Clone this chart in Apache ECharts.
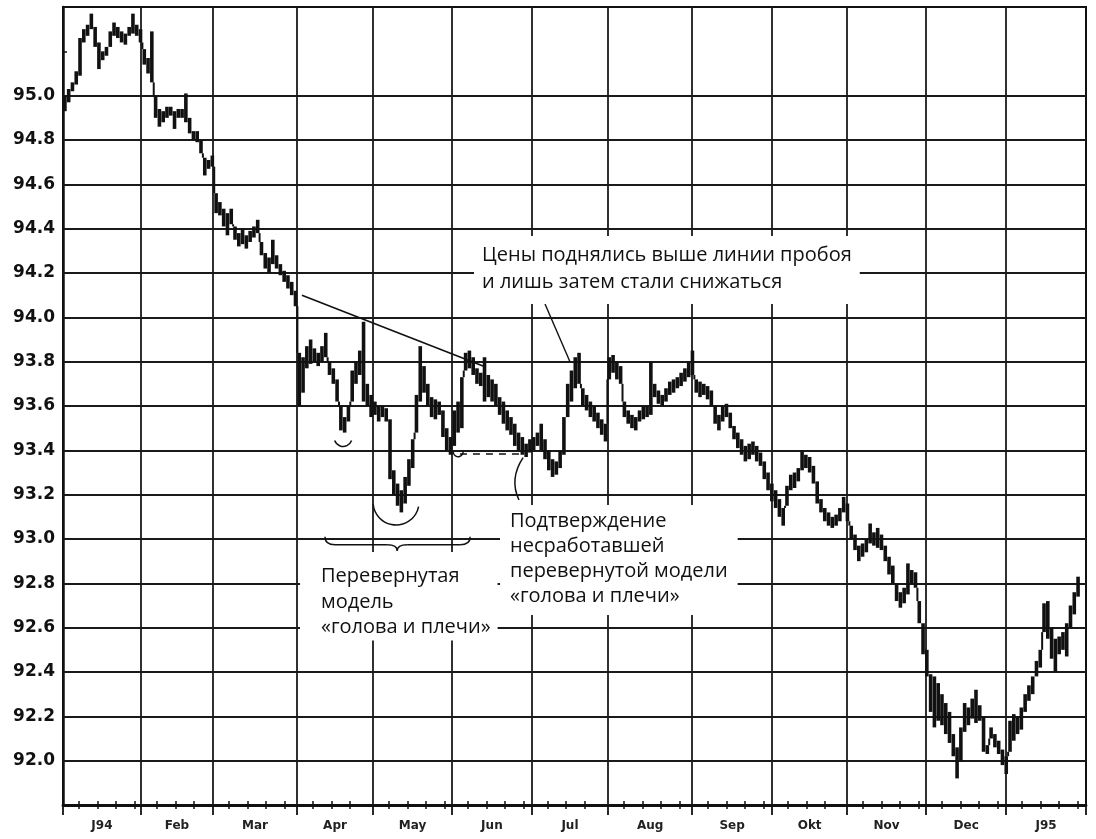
<!DOCTYPE html>
<html><head><meta charset="utf-8">
<script src="https://cdn.jsdelivr.net/npm/echarts@6/dist/echarts.min.js"></script>
<style>html,body{margin:0;padding:0;background:#fff}#c{width:1096px;height:839px}</style>
</head><body><div id="c"></div>
<script>
// ---- data ----
const monthLabels = ['J94','Feb','Mar','Apr','May','Jun','Jul','Aug','Sep','Okt','Nov','Dec','J95'];
// month boundaries in trading-day units
const monthStarts = [0, 20.6, 39.7, 61.9, 82, 102.9, 124, 144.2, 166.4, 187.6, 207.4, 228.3, 249.5, 270.6];
const yTickValues = [92.0, 92.2, 92.4, 92.6, 92.8, 93.0, 93.2, 93.4, 93.6, 93.8, 94.0, 94.2, 94.4, 94.6, 94.8, 95.0];

// daily lows / highs
const lowsJan94 = [94.93,94.97,95.02,95.05,95.09,95.24,95.27,95.30,95.22,95.12,95.16,95.18,95.22,95.27,95.26,95.24,95.23,95.27,95.28,95.27,95.24];
const highsJan94 = [95.00,95.03,95.06,95.11,95.26,95.30,95.32,95.37,95.31,95.24,95.20,95.22,95.29,95.33,95.31,95.29,95.28,95.31,95.37,95.32,95.30];
const lowsFeb = [95.14,95.10,95.06,94.90,94.86,94.88,94.90,94.91,94.85,94.90,94.90,94.88,94.83,94.80,94.79,94.74,94.64,94.67,94.68];
const highsFeb = [95.21,95.17,95.29,95.00,94.94,94.93,94.95,94.95,94.93,94.94,94.94,95.01,94.90,94.84,94.84,94.80,94.72,94.71,94.73];
const lowsMar = [94.47,94.46,94.41,94.37,94.42,94.35,94.32,94.33,94.31,94.34,94.36,94.38,94.28,94.22,94.20,94.24,94.22,94.19,94.16,94.13,94.10,94.05];
const highsMar = [94.56,94.52,94.49,94.47,94.49,94.41,94.38,94.40,94.37,94.39,94.41,94.44,94.34,94.29,94.27,94.35,94.28,94.24,94.21,94.19,94.16,94.12];
const lowsApr = [93.60,93.66,93.77,93.79,93.80,93.78,93.80,93.82,93.74,93.70,93.62,93.49,93.48,93.53,93.62,93.70,93.74,93.62,93.60,93.55];
const highsApr = [93.84,93.82,93.87,93.90,93.86,93.84,93.87,93.93,93.80,93.77,93.72,93.60,93.55,93.60,93.76,93.80,93.85,93.98,93.70,93.65];
const lowsMay = [93.56,93.53,93.55,93.53,93.27,93.20,93.15,93.12,93.16,93.24,93.32,93.48,93.62,93.66,93.60,93.55,93.54,93.56,93.46,93.40,93.38];
const highsMay = [93.62,93.60,93.60,93.59,93.54,93.31,93.25,93.22,93.28,93.36,93.45,93.65,93.87,93.78,93.70,93.64,93.63,93.62,93.58,93.50,93.46];
const lowsJun = [93.42,93.48,93.50,93.76,93.77,93.74,93.70,93.69,93.62,93.64,93.62,93.60,93.56,93.52,93.49,93.47,93.42,93.40,93.38,93.37,93.39];
const highsJun = [93.58,93.62,93.73,93.84,93.85,93.82,93.77,93.75,93.82,93.74,93.72,93.70,93.64,93.62,93.58,93.55,93.52,93.48,93.46,93.43,93.45];
const lowsJul = [93.40,93.42,93.40,93.36,93.31,93.28,93.29,93.32,93.38,93.55,93.62,93.68,93.70,93.60,93.58,93.55,93.53,93.50,93.47,93.44];
const highsJul = [93.46,93.48,93.52,93.45,93.40,93.36,93.35,93.40,93.55,93.70,93.76,93.82,93.84,93.68,93.65,93.62,93.60,93.57,93.54,93.52];
const lowsAug = [93.72,93.75,93.72,93.70,93.55,93.52,93.50,93.49,93.53,93.54,93.55,93.56,93.64,93.61,93.60,93.62,93.65,93.66,93.68,93.69,93.71,93.73];
const highsAug = [93.82,93.83,93.80,93.78,93.62,93.58,93.56,93.55,93.58,93.60,93.60,93.80,93.70,93.67,93.65,93.68,93.71,93.72,93.73,93.75,93.77,93.80];
const lowsSep = [93.74,93.66,93.64,93.65,93.63,93.60,93.52,93.49,93.53,93.55,93.50,93.45,93.41,93.38,93.35,93.36,93.38,93.35,93.33,93.27,93.22,93.17];
const highsSep = [93.85,93.72,93.71,93.70,93.69,93.67,93.60,93.56,93.60,93.61,93.57,93.51,93.48,93.45,93.42,93.43,93.44,93.42,93.39,93.35,93.30,93.25];
const lowsOct = [93.14,93.10,93.06,93.15,93.22,93.23,93.26,93.31,93.32,93.30,93.25,93.16,93.12,93.08,93.06,93.05,93.06,93.08,93.12,93.08];
const highsOct = [93.22,93.18,93.14,93.24,93.29,93.30,93.32,93.40,93.38,93.37,93.33,93.26,93.18,93.14,93.12,93.10,93.11,93.14,93.19,93.16];
const lowsNov = [93.00,92.95,92.90,92.92,92.94,92.98,92.97,92.96,92.95,92.90,92.84,92.80,92.72,92.69,92.71,92.75,92.80,92.78,92.62,92.48];
const highsNov = [93.06,93.02,92.97,92.98,93.00,93.07,93.03,93.05,93.02,92.97,92.92,92.88,92.80,92.76,92.78,92.89,92.86,92.85,92.72,92.62];
const lowsDec = [92.38,92.22,92.15,92.18,92.16,92.12,92.08,92.02,91.92,92.00,92.13,92.16,92.19,92.17,92.18,92.04,92.03,92.10,92.06,92.03,91.98,91.94];
const highsDec = [92.50,92.39,92.38,92.35,92.30,92.26,92.22,92.12,92.06,92.15,92.26,92.24,92.28,92.32,92.25,92.20,92.07,92.15,92.12,92.09,92.05,92.02];
const lowsJan95 = [92.04,92.09,92.12,92.14,92.22,92.27,92.30,92.38,92.42,92.58,92.55,92.46,92.40,92.48,92.50,92.47,92.60,92.66,92.74];
const highsJan95 = [92.18,92.21,92.20,92.24,92.30,92.34,92.38,92.45,92.50,92.71,92.72,92.60,92.55,92.56,92.58,92.62,92.70,92.76,92.83];

// annotation lines (trading day, price)
const breakoutLine = [[63.2, 94.10], [111.1, 93.78]];
const confirmLine = [[105.0, 93.385], [121.7, 93.385]];
const arrowLine = [[127.5, 94.06], [134.1, 93.80]];

const lows = [].concat(lowsJan94, lowsFeb, lowsMar, lowsApr, lowsMay, lowsJun, lowsJul, lowsAug, lowsSep, lowsOct, lowsNov, lowsDec, lowsJan95);
const highs = [].concat(highsJan94, highsFeb, highsMar, highsApr, highsMay, highsJun, highsJul, highsAug, highsSep, highsOct, highsNov, highsDec, highsJan95);
const bars = lows.map((l, i) => [i + 0.5, l, highs[i]]);

const monthCenters = monthLabels.map((_, i) => (monthStarts[i] + monthStarts[i + 1]) / 2);
const weekTicks = [];
for (let m = 0; m < monthStarts.length - 1; m++) {
  for (let d = monthStarts[m] + 4.2; d < monthStarts[m + 1] - 1.5; d += 4.9) weekTicks.push(d);
}

const INK = '#111';
const chart = echarts.init(document.getElementById('c'), null, {renderer: 'canvas'});
const xBase = {type: 'value', min: 0, max: 270.6, position: 'bottom', offset: 0, splitLine: {show: false}};
chart.setOption({
  animation: false,
  backgroundColor: '#fff',
  grid: {left: 63, right: 10, top: 7, bottom: 34, show: true, borderColor: INK, borderWidth: 2, backgroundColor: 'transparent'},
  xAxis: [
    Object.assign({}, xBase, {
      axisLine: {show: true, lineStyle: {color: INK, width: 2.8}},
      axisTick: {show: true, customValues: weekTicks, inside: false, length: 4, lineStyle: {color: INK, width: 1.5}},
      axisLabel: {show: true, customValues: monthCenters, margin: 15, color: '#222', fontFamily: 'DejaVu Sans', fontWeight: 'bold', fontSize: 12,
        formatter: v => { const i = monthCenters.findIndex(c => Math.abs(c - v) < 0.01); return i >= 0 ? monthLabels[i] : ''; }}
    }),
    Object.assign({}, xBase, {
      axisLine: {show: false},
      axisTick: {show: true, customValues: weekTicks, inside: true, length: 4, lineStyle: {color: INK, width: 1.5}},
      axisLabel: {show: false}
    }),
    Object.assign({}, xBase, {
      axisLine: {show: false},
      axisTick: {show: true, customValues: monthStarts, inside: false, length: 10, lineStyle: {color: INK, width: 1.8}},
      axisLabel: {show: false}
    })
  ],
  yAxis: {
    type: 'value', min: 91.8, max: 95.4, interval: 0.2,
    axisLine: {show: true, lineStyle: {color: INK, width: 2.5}},
    axisTick: {show: true, inside: true, length: 4, lineStyle: {color: INK, width: 1.5}},
    splitLine: {show: false},
    axisLabel: {margin: 8, color: INK, fontFamily: 'DejaVu Sans', fontWeight: 'bold', fontSize: 17,
      formatter: v => (v > 91.9 && v < 95.1) ? v.toFixed(1) : ''}
  },
  series: [
    {
      type: 'custom', name: 'price', xAxisIndex: 0, yAxisIndex: 0, z: 5,
      data: bars,
      encode: {x: 0, y: [1, 2]},
      renderItem: (params, api) => {
        const i = params.dataIndex;
        const x = api.value(0), lo = api.value(1), hi = api.value(2);
        const pTop = api.coord([x, hi]), pBot = api.coord([x, lo]);
        const w = 3.6;
        const h = Math.max(2.5, pBot[1] - pTop[1]);
        const children = [{type: 'rect', shape: {x: pTop[0] - w / 2, y: pTop[1], width: w, height: h}, style: {fill: INK}}];
        if (i > 0) {
          // join to the previous bar when the two ranges do not touch
          const prev = bars[i - 1];
          const xm = api.coord([x - 0.5, lo])[0];
          let a = null, b = null;
          if (lo > prev[2]) { a = prev[2]; b = lo; }
          else if (hi < prev[1]) { a = hi; b = prev[1]; }
          if (a !== null) {
            const ya = api.coord([x, a])[1], yb = api.coord([x, b])[1];
            children.push({type: 'rect', shape: {x: xm - 1, y: Math.min(ya, yb), width: 2, height: Math.abs(yb - ya)}, style: {fill: INK}});
          }
        }
        return {type: 'group', children};
      }
    },
    {
      type: 'line', name: 'grid', data: [], xAxisIndex: 0, yAxisIndex: 0, z: 1,
      markLine: {
        silent: true, symbol: 'none', label: {show: false}, animation: false,
        lineStyle: {color: '#1a1a1a', width: 1.8, type: 'solid'},
        data: monthStarts.slice(1, -1).map(v => ({xAxis: v})).concat(yTickValues.map(v => ({yAxis: v})))
      }
    },
    {
      type: 'line', name: 'notes', data: [], xAxisIndex: 0, yAxisIndex: 0, z: 6,
      markLine: {
        silent: true, label: {show: false}, animation: false, symbol: 'none',
        data: [
          [{coord: breakoutLine[0], lineStyle: {color: INK, width: 1.6, type: 'solid'}}, {coord: breakoutLine[1]}],
          [{coord: confirmLine[0], lineStyle: {color: INK, width: 1.6, type: [7, 6]}}, {coord: confirmLine[1]}],
          [{coord: arrowLine[0], lineStyle: {color: INK, width: 1.4, type: 'solid'}}, {coord: arrowLine[1]}]
        ]
      }
    }
  ]
});

// ---- annotation decorations anchored to data coordinates ----
const P = (x, y) => chart.convertToPixel({seriesIndex: 0}, [x, y]);
const stroke = {stroke: INK, lineWidth: 1.5, fill: null};
const sh = P(74.1, 93.44), hd = P(88.1, 93.167), rh = P(104.0, 93.394);
const bl = P(69.3, 93.01), br = P(107.7, 93.01), bm = P(88.4, 93.01);
const c0 = P(121.7, 93.367), c1 = P(120.6, 93.176);
const by = bl[1], bd = 8, bt = 14;
const txtFont = '20px "Open Sans"';
const g = [
  {type: 'arc', z: 50, shape: {cx: sh[0], cy: sh[1] - 4, r: 9, startAngle: 0.35, endAngle: Math.PI - 0.35, clockwise: true}, style: stroke},
  {type: 'arc', z: 50, shape: {cx: hd[0], cy: hd[1], r: 23, startAngle: 0.2, endAngle: Math.PI - 0.1, clockwise: true}, style: stroke},
  {type: 'arc', z: 50, shape: {cx: rh[0] + 2, cy: rh[1], r: 5, startAngle: -0.3, endAngle: Math.PI + 0.2, clockwise: true}, style: stroke},
  // brace
  {type: 'bezierCurve', z: 50, shape: {x1: bl[0], y1: by, cpx1: bl[0], cpy1: by + bd, x2: bl[0] + 10, y2: by + bd}, style: stroke},
  {type: 'line', z: 50, shape: {x1: bl[0] + 10, y1: by + bd, x2: bm[0] - 10, y2: by + bd}, style: stroke},
  {type: 'bezierCurve', z: 50, shape: {x1: bm[0] - 10, y1: by + bd, cpx1: bm[0], cpy1: by + bd, x2: bm[0], y2: by + bt}, style: stroke},
  {type: 'bezierCurve', z: 50, shape: {x1: bm[0], y1: by + bt, cpx1: bm[0], cpy1: by + bd, x2: bm[0] + 10, y2: by + bd}, style: stroke},
  {type: 'line', z: 50, shape: {x1: bm[0] + 10, y1: by + bd, x2: br[0] - 10, y2: by + bd}, style: stroke},
  {type: 'bezierCurve', z: 50, shape: {x1: br[0] - 10, y1: by + bd, cpx1: br[0], cpy1: by + bd, x2: br[0], y2: by}, style: stroke},
  // connector
  {type: 'bezierCurve', z: 50, shape: {x1: c0[0], y1: c0[1], cpx1: c0[0] - 14, cpy1: (c0[1] + c1[1]) / 2, x2: c1[0], y2: c1[1]}, style: stroke},
  // text boxes
  {type: 'text', z: 40, left: 474, top: 236, style: {text: 'Цены поднялись выше линии пробоя\nи лишь затем стали снижаться', font: txtFont, fill: INK, backgroundColor: '#fff', padding: [6, 8, 8, 8], lineHeight: 27}},
  {type: 'text', z: 40, left: 500, top: 505, style: {text: 'Подтверждение\nнесработавшей\nперевернутой модели\n«голова и плечи»', font: txtFont, fill: INK, backgroundColor: '#fff', padding: [4, 10, 6, 10], lineHeight: 25}},
  {type: 'text', z: 40, left: 300, top: 552, style: {text: 'Перевернутая\nмодель\n«голова и плечи»', font: txtFont, fill: INK, backgroundColor: '#fff', padding: [12, 7, 0, 21], lineHeight: 25.5}}
];
chart.setOption({graphic: g});
</script>
</body></html>
